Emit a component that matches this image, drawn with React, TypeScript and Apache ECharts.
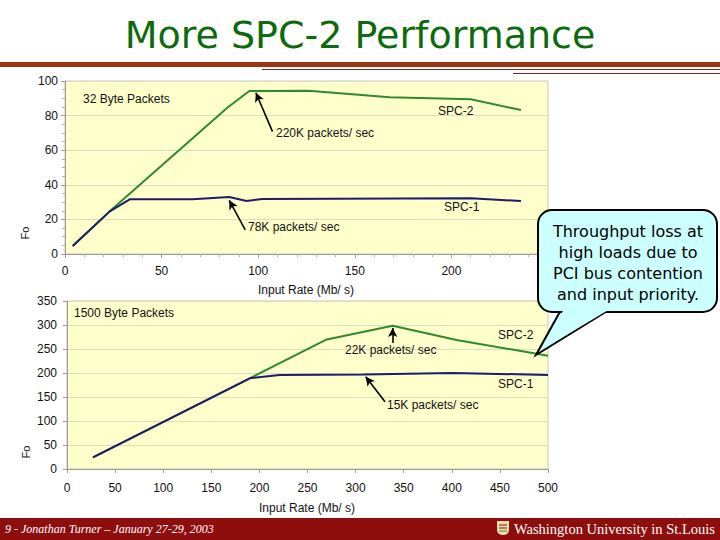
import React, { useEffect, useRef } from "react";
import * as echarts from "echarts";

// ---- Data ----
// Top chart: 32 Byte Packets, forwarding rate vs input rate (Mb/s)
const topSpc1X = [4, 23, 33.5, 66, 85, 94, 102, 210, 236];
const topSpc1Y = [4.6, 24.5, 31.6, 31.6, 33, 30.6, 31.8, 32.2, 30.6];
const topSpc2X = [4, 23, 84, 95.4, 126, 168, 210, 236];
const topSpc2Y = [4.6, 24.5, 84.5, 94.2, 94.4, 90.6, 89.4, 83.2];

// Bottom chart: 1500 Byte Packets
const botSpc1X = [27, 190, 221, 308, 401, 500];
const botSpc1Y = [24.4, 189, 196, 197, 200, 196];
const botSpc2X = [27, 190, 270, 338.5, 405, 500];
const botSpc2Y = [24.4, 189, 270, 298.5, 268.7, 236];

const topXTicks = { min: 0, max: 250, interval: 50 };
const topYTicks = { min: 0, max: 100, interval: 20 };
const botXTicks = { min: 0, max: 500, interval: 50 };
const botYTicks = { min: 0, max: 350, interval: 50 };

const titleText = "More SPC-2 Performance";
const xAxisTitle = "Input Rate (Mb/ s)";
const calloutLines = [
  "Throughput loss at",
  "high loads due to",
  "PCI bus contention",
  "and input priority.",
];
const footerLeft = "9 - Jonathan Turner \u2013 January 27-29, 2003";
const footerRight = "Washington University in St.Louis";

const pairs = (xs: number[], ys: number[]) => xs.map((x, i) => [x, ys[i]]);

const GREEN = "#2f8a2f";
const BLUE = "#1c1c6c";
const YELLOW = "#ffffcc";
const FONT = "Liberation Sans";

export default function App() {
  const ref = useRef<HTMLDivElement>(null);

  useEffect(() => {
    document.body.style.margin = "0";
    const chart = echarts.init(ref.current!, null, { renderer: "svg" });

    const valueAxisCommon = (minor: number | null) => ({
      type: "value",
      axisLine: { show: true, onZero: false, lineStyle: { color: "#9a9a9a", width: 1 } },
      axisTick: { show: true, length: 4, lineStyle: { color: "#9a9a9a" } },
      minorTick: minor
        ? { show: true, splitNumber: minor, length: 3, lineStyle: { color: "#b0b0b0" } }
        : { show: false },
      splitLine: { show: false },
      axisLabel: { color: "#111", fontFamily: FONT, fontSize: 12 },
    });

    const arrowLine = (from: number[], to: number[]) => [
      { coord: from },
      { coord: to },
    ];

    const markArrows = (lines: any[]) => ({
      silent: true,
      symbol: ["none", "arrow"],
      symbolSize: [7, 9],
      lineStyle: { color: "#000", width: 1.6, type: "solid" },
      label: { show: false },
      data: lines,
    });

    const txt = (x: number, y: number, text: string, extra: any = {}) => ({
      type: "text",
      x,
      y,
      z: 50,
      style: {
        text,
        fill: "#111",
        font: `12px "${FONT}"`,
        textVerticalAlign: "middle",
        ...extra,
      },
    });

    const option: any = {
      animation: false,
      backgroundColor: "#ffffff",
      grid: [
        {
          left: 65,
          right: 172,
          top: 81,
          height: 173,
          show: true,
          backgroundColor: YELLOW,
          borderColor: "#c8c8b0",
          borderWidth: 1,
        },
        {
          left: 67,
          right: 172,
          top: 301,
          height: 168,
          show: true,
          backgroundColor: YELLOW,
          borderColor: "#c8c8b0",
          borderWidth: 1,
        },
      ],
      xAxis: [
        {
          ...valueAxisCommon(5),
          gridIndex: 0,
          ...topXTicks,
          axisLabel: { color: "#111", fontFamily: FONT, fontSize: 12, margin: 11 },
        },
        {
          ...valueAxisCommon(null),
          gridIndex: 1,
          ...botXTicks,
          axisLabel: { color: "#111", fontFamily: FONT, fontSize: 12, margin: 13 },
        },
      ],
      yAxis: [
        {
          ...valueAxisCommon(4),
          gridIndex: 0,
          ...topYTicks,
          splitLine: { show: true, lineStyle: { color: "#dcdcc4", width: 1 } },
          axisLabel: { color: "#111", fontFamily: FONT, fontSize: 12, margin: 7 },
        },
        {
          ...valueAxisCommon(null),
          gridIndex: 1,
          ...botYTicks,
          splitLine: { show: true, lineStyle: { color: "#dcdcc4", width: 1 } },
          axisLabel: { color: "#111", fontFamily: FONT, fontSize: 12, margin: 10 },
        },
      ],
      series: [
        {
          name: "SPC-1 top",
          type: "line",
          xAxisIndex: 0,
          yAxisIndex: 0,
          data: pairs(topSpc1X, topSpc1Y),
          showSymbol: false,
          lineStyle: { color: BLUE, width: 2 },
          z: 3,
          markLine: markArrows([arrowLine([93.3, 13.9], [85, 31.0])]),
        },
        {
          name: "SPC-2 top",
          type: "line",
          xAxisIndex: 0,
          yAxisIndex: 0,
          data: pairs(topSpc2X, topSpc2Y),
          showSymbol: false,
          lineStyle: { color: GREEN, width: 2 },
          z: 2,
          markLine: markArrows([arrowLine([107.4, 70.7], [98.8, 93.2])]),
        },
        {
          name: "SPC-2 bottom",
          type: "line",
          xAxisIndex: 1,
          yAxisIndex: 1,
          data: pairs(botSpc2X, botSpc2Y),
          showSymbol: false,
          lineStyle: { color: GREEN, width: 2 },
          z: 2,
          markLine: markArrows([arrowLine([338.5, 262.5], [338.5, 294])]),
        },
        {
          name: "SPC-1 bottom",
          type: "line",
          xAxisIndex: 1,
          yAxisIndex: 1,
          data: pairs(botSpc1X, botSpc1Y),
          showSymbol: false,
          lineStyle: { color: BLUE, width: 2 },
          z: 3,
          markLine: markArrows([arrowLine([330.6, 140.2], [310.5, 192])]),
        },
      ],
      graphic: [
        // Title
        {
          type: "text",
          x: 360,
          y: 35,
          z: 50,
          style: {
            text: titleText,
            fill: "#0d6b0d",
            font: '38px "DejaVu Sans"',
            textAlign: "center",
            textVerticalAlign: "middle",
          },
        },
        // Header rules
        { type: "rect", z: 50, shape: { x: 0, y: 62, width: 720, height: 5 }, style: { fill: "#9a3414" } },
        { type: "line", z: 50, shape: { x1: 262, y1: 69.5, x2: 720, y2: 69.5 }, style: { stroke: "#7a2a10", lineWidth: 1 } },
        { type: "line", z: 50, shape: { x1: 513, y1: 73.5, x2: 720, y2: 73.5 }, style: { stroke: "#7a2a10", lineWidth: 1 } },

        // Axis titles
        txt(306, 290, xAxisTitle, { textAlign: "center" }),
        txt(307, 508, xAxisTitle, { textAlign: "center" }),
        {
          type: "text",
          x: 25,
          y: 233,
          rotation: Math.PI / 2,
          z: 50,
          style: { text: "Fo", fill: "#111", font: `11px "${FONT}"`, textAlign: "center", textVerticalAlign: "middle" },
        },
        {
          type: "text",
          x: 26,
          y: 452,
          rotation: Math.PI / 2,
          z: 50,
          style: { text: "Fo", fill: "#111", font: `11px "${FONT}"`, textAlign: "center", textVerticalAlign: "middle" },
        },

        // Top chart annotations
        txt(83, 99, "32 Byte Packets"),
        txt(276, 133, "220K packets/ sec"),
        txt(438, 111, "SPC-2"),
        txt(444, 207, "SPC-1"),
        txt(248, 227, "78K packets/ sec"),

        // Bottom chart annotations
        txt(74, 313, "1500 Byte Packets"),
        txt(498, 335, "SPC-2"),
        txt(345, 350, "22K packets/ sec"),
        txt(498, 384, "SPC-1"),
        txt(387, 405, "15K packets/ sec"),

        // Callout bubble
        {
          type: "polygon",
          z: 100,
          shape: { points: [[562, 308], [536, 355], [612, 308]] },
          style: { fill: "#ccffff", stroke: "#000", lineWidth: 2 },
        },
        {
          type: "rect",
          z: 101,
          shape: { x: 538, y: 210, width: 179, height: 102, r: 14 },
          style: { fill: "#ccffff", stroke: "#000", lineWidth: 2 },
        },
        {
          type: "polygon",
          z: 102,
          shape: { points: [[564, 309], [541, 350], [610, 309]] },
          style: { fill: "#ccffff", stroke: null },
        },
        ...calloutLines.map((line, i) => ({
          type: "text",
          x: 628,
          y: 231 + i * 21.3,
          z: 103,
          style: {
            text: line,
            fill: "#000",
            font: '16px "DejaVu Sans"',
            textAlign: "center",
            textVerticalAlign: "middle",
          },
        })),

        // Footer
        { type: "rect", z: 50, shape: { x: 0, y: 518, width: 720, height: 22 }, style: { fill: "#8e0e0e" } },
        {
          type: "text",
          x: 5,
          y: 529,
          z: 51,
          style: {
            text: footerLeft,
            fill: "#ffffff",
            font: 'italic 12px "Liberation Serif"',
            textVerticalAlign: "middle",
          },
        },
        { type: "rect", z: 51, shape: { x: 497, y: 521, width: 12, height: 14, r: [0, 0, 5, 5] }, style: { fill: "#e9dfa8" } },
        { type: "line", z: 52, shape: { x1: 499, y1: 525, x2: 507, y2: 525 }, style: { stroke: "#8e0e0e", lineWidth: 1 } },
        { type: "line", z: 52, shape: { x1: 499, y1: 528, x2: 507, y2: 528 }, style: { stroke: "#8e0e0e", lineWidth: 1 } },
        { type: "line", z: 52, shape: { x1: 499, y1: 531, x2: 507, y2: 531 }, style: { stroke: "#6a8a30", lineWidth: 1 } },
        {
          type: "text",
          x: 715,
          y: 529,
          z: 51,
          style: {
            text: footerRight,
            fill: "#ffffff",
            font: '14.5px "Liberation Serif"',
            textAlign: "right",
            textVerticalAlign: "middle",
          },
        },
      ],
    };

    chart.setOption(option);
    return () => chart.dispose();
  }, []);

  return (
    <div
      ref={ref}
      style={{ position: "fixed", left: 0, top: 0, width: 720, height: 540 }}
    />
  );
}
